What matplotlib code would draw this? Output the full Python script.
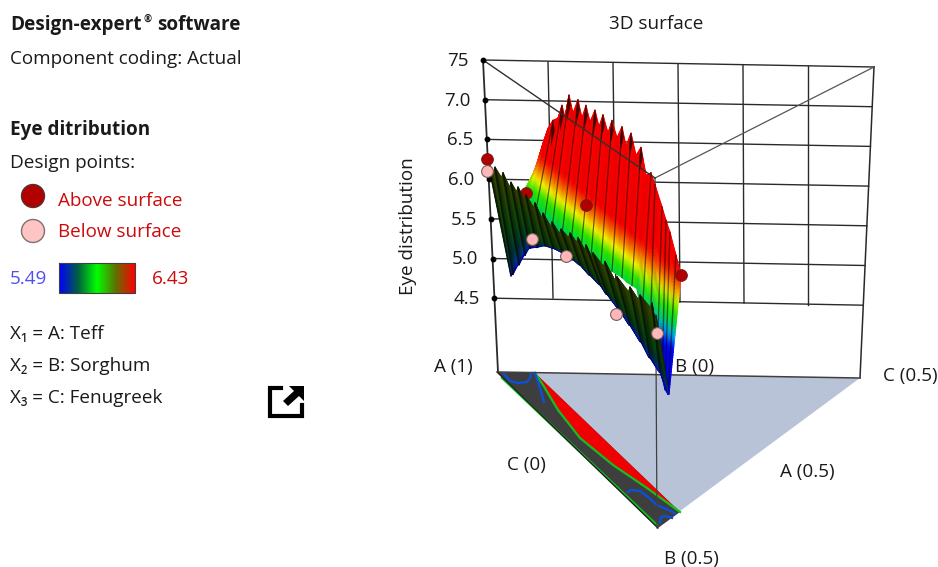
import numpy as np
import matplotlib
matplotlib.use("Agg")
import matplotlib.pyplot as plt
from matplotlib.colors import LinearSegmentedColormap
from matplotlib.patches import Polygon, Circle

plt.rcParams['font.family'] = ['Open Sans', 'Noto Sans', 'DejaVu Sans']

# ---- data -----------------------------------------------------------------
z_ticks = [7.5, 7.0, 6.5, 6.0, 5.5, 5.0, 4.5]
z_tick_labels = ["75", "7.0", "6.5", "6.0", "5.5", "5.0", "4.5"]
legend_min, legend_max = "5.49", "6.43"

# rear sheet: screen column, height of ridge, height of lower edge, screen column at the lower edge
back_x = [530,533,537,543,548,553,558,562,565,569,573,578,582,586,590,595,599,603,608,612,617,622,626,631,636,641,646,651,655,662,666,670,676,681]
back_top = [5.82,6.05,6.18,6.45,6.64,6.74,6.77,6.93,6.78,7.06,6.83,7.00,6.77,6.93,6.72,6.87,6.66,6.81,6.58,6.74,6.52,6.66,6.42,6.58,6.30,6.40,6.05,6.08,5.93,5.65,5.48,5.33,5.04,4.79]
back_bot = [5.80,5.76,5.72,5.66,5.60,5.55,5.50,5.46,5.42,5.38,5.34,5.30,5.24,5.20,5.16,5.12,5.06,5.02,4.98,4.94,4.90,4.84,4.80,4.76,4.70,4.66,4.62,4.28,4.02,3.70,3.50,3.35,3.29,3.29]
back_xb = [518,520,522,526,530,535,540,544,548,552,557,562,566,571,576,581,586,591,596,601,607,612,617,622,627,632,637,642,650,657,662,665,668,669]

# front sheet: same description, one entry per ridge spike
front_x = [488,495,503,511,518,526,535,543,552,561,570,578,586,593,605,617,630,640,652,656]
front_top = [6.22,6.15,6.08,5.96,5.90,5.80,5.70,5.57,5.46,5.37,5.32,5.26,5.17,5.07,4.96,4.77,4.64,4.54,4.44,4.29]
front_bot = [4.78,4.80,4.92,5.04,5.13,5.14,5.16,5.13,5.08,5.01,4.92,4.79,4.67,4.55,4.38,4.16,3.95,3.75,3.57,3.29]
front_xb = [511,513,519,525,530,537,545,553,562,571,580,590,600,607,618,630,641,650,660,669]

above_x, above_z = [487, 586, 681], [6.25, 5.67, 4.79]
hidden_above_x, hidden_above_z = [526], [5.82]
below_x, below_z = [487, 532, 566, 616, 657], [6.10, 5.25, 5.03, 4.30, 4.06]

# contours on the floor projection
red_edge_x = [535,543,558,580,613,647,680]
red_edge_y = [373,385,410,438,465,488,512]
green_out_x, green_out_y = [502,657], [378,525]
blue_a_x = [504,510,518,527,530,531,534]
blue_a_y = [374,381,383,382,378,373,373]
blue_b_x = [535,539,544]
blue_b_y = [373,385,402]
blue_c_x = [628,631,640,648,657,675]
blue_c_y = [492,490,491,497,505,513]
blue_d_x = [660,661,665,672]
blue_d_y = [523,517,516,518]

# ---- helpers --------------------------------------------------------------
def z2y(z):
    return 60 + (7.5 - np.asarray(z, float)) * 79.4

def axis_x(y):
    return 483 + (np.asarray(y, float) - 60) * 15 / 312

def right_x(y):
    return 874 - (np.asarray(y, float) - 67) * 14 / 311

surf_cmap = LinearSegmentedColormap.from_list("surf", ["#0000ff", "#00b0ff", "#00e040", "#30f000", "#ffff00", "#ff7000", "#ff0000", "#ff0000"])
front_cmap = LinearSegmentedColormap.from_list("front", ["#0000e8", "#003a90", "#003c3c", "#0c4a10", "#1c4c06", "#3a4a00"])
bar_cmap = LinearSegmentedColormap.from_list("bar", ["#0000ff", "#006040", "#00ff00", "#607000", "#ff0000"])

fig = plt.figure(figsize=(9.38, 5.67), dpi=100)
ax = fig.add_axes([0, 0, 1, 1])
ax.set_xlim(0, 938)
ax.set_ylim(567, 0)
ax.axis("off")

INK = "#2a2a2a"
TXT = "#1a1a1a"
FS = 13.6

def T(x, y, s, **kw):
    kw.setdefault("color", TXT)
    kw.setdefault("fontsize", FS)
    kw.setdefault("va", "center")
    ax.text(x, y + 1, s, **kw)

# ---- left panel -----------------------------------------------------------
T(10, 24, "Design-expert", fontweight="bold")
T(144, 18, "®", fontsize=7, fontweight="bold")
T(241, 24, "software", fontweight="bold", ha="right")
T(10, 58, "Component coding: Actual")
T(10, 129, "Eye ditribution", fontweight="bold")
T(10, 162, "Design points:")
ax.add_patch(Circle((33, 196), 11.5, fc="#b00000", ec="#5a3030", lw=1))
ax.add_patch(Circle((33, 231), 11.5, fc="#ffc4c4", ec="#807070", lw=1))
T(58, 200, "Above surface", color="#cc0a0a")
T(58, 231, "Below surface", color="#cc0a0a")
T(10, 278, legend_min, color="#5050f0")
T(152, 278, legend_max, color="#cc0a0a")
ax.imshow(np.linspace(0, 1, 200)[None, :], cmap=bar_cmap, extent=(59, 135, 293, 263), aspect="auto", zorder=2)
ax.plot([59, 135, 135, 59, 59], [263, 263, 293, 293, 263], color="#404040", lw=0.8, zorder=3)
ax.set_xlim(0, 938)
ax.set_ylim(567, 0)
T(10, 333, "X₁ = A: Teff")
T(10, 365, "X₂ = B: Sorghum")
T(10, 397, "X₃ = C: Fenugreek")
# export icon
ax.plot([281, 270, 270, 302, 302], [388, 388, 416, 416, 405], color="black", lw=3, solid_joinstyle="miter")
ax.add_patch(Polygon([(289, 386), (304, 386), (304, 401), (299, 396), (288, 406), (283, 401), (294, 391)], fc="black", ec="none"))

# ---- walls ----------------------------------------------------------------
for z in z_ticks:
    y = float(z2y(z))
    ax.plot([axis_x(y), right_x(y + 7)], [y, y + 7], color=INK, lw=1.0, zorder=1)
    ax.plot([axis_x(y)], [y], "o", color="black", ms=3.2, zorder=4)
for xt, xb, yt, yb in [(548, 553, 62, 298), (613, 616, 63, 300), (678, 680, 64, 302), (743, 744, 65, 303), (808, 808, 66, 305)]:
    ax.plot([xt, xb], [yt, yb], color=INK, lw=1.0, zorder=1)
ax.plot([483, 498], [60, 372], color=INK, lw=1.3, zorder=1)
ax.plot([874, 860], [67, 378], color=INK, lw=1.1, zorder=1)
ax.plot([655, 874], [178, 67], color="#555555", lw=0.9, zorder=1)

# floor
ax.add_patch(Polygon([(498, 372), (860, 378), (657, 528)], fc="#b9c3d7", ec="none", zorder=1))
ax.add_patch(Polygon([(497, 372), (535, 373), (680, 512), (658, 528)], fc="#3e3e3e", ec="none", zorder=1.2))
ax.add_patch(Polygon(list(zip(red_edge_x, red_edge_y)), fc="#f00000", ec="none", zorder=1.3))
ax.plot(red_edge_x, red_edge_y, color="#10c020", lw=1.6, zorder=1.4)
ax.plot(green_out_x, green_out_y, color="#10c020", lw=1.6, zorder=1.4)
for bx, by in [(blue_a_x, blue_a_y), (blue_b_x, blue_b_y), (blue_c_x, blue_c_y), (blue_d_x, blue_d_y)]:
    ax.plot(bx, by, color="#0a50e0", lw=1.6, zorder=1.4)
ax.plot([498, 860], [372, 378], color="#404040", lw=1.1, zorder=1.5)
ax.plot([497, 658], [372, 528], color="#202020", lw=1.0, zorder=1.5)
ax.plot([655, 657], [178, 528], color="#404040", lw=0.9, zorder=1.5)

# ---- surface --------------------------------------------------------------
rows = np.linspace(0, 1, 50)[:, None]

def sheet(xt, zt, xb, zb, colour_of, shade, zo):
    xt, xb = np.asarray(xt, float), np.asarray(xb, float)
    yt, yb = z2y(zt), z2y(zb)
    X = xt[None, :] + (xb - xt)[None, :] * rows
    Y = yt[None, :] + (yb - yt)[None, :] * rows
    rgb = colour_of(X, Y, rows)[..., :3] * np.asarray(shade)[None, :, None]
    ax.pcolormesh(X, Y, np.clip(rgb, 0, 1), shading="gouraud", zorder=zo, rasterized=True)

def back_colour(X, Y, t):
    y_green = 187 + 0.85 * (X - 537)
    return surf_cmap(np.clip(0.5 + (y_green - Y) / 95, 0, 1))

n = len(back_x)
sh = [0.92 if i % 2 == 0 else 1.0 for i in range(n)]
sheet(back_x, back_top, back_xb, back_bot, back_colour, sh, 2)

# dark creases of the rear sheet, from each spike tip down
ytop, ybot = z2y(back_top), z2y(back_bot)
for i in range(5, 27, 2):
    ax.plot([back_x[i], back_xb[i]], [ytop[i], ybot[i]], color="#180800", lw=0.9, alpha=0.6, zorder=2.1)
    ax.add_patch(Polygon([(back_x[i] - 1.8, ytop[i] + 10), (back_x[i], ytop[i]), (back_x[i] + 1.8, ytop[i] + 10), (back_x[i] - 2, ytop[i] + 26)], fc="#200800", ec="none", alpha=0.8, zorder=2.1))
for i in range(27, n - 1):
    ax.plot([back_x[i], back_xb[i]], [ytop[i], ybot[i]], color="#180800", lw=1.0, alpha=0.55, zorder=2.1)

# the see-through wall diagonal runs over the rear sheet
ax.plot([483, 655], [60, 178], color="#303030", lw=1.0, zorder=2.2)

ax.plot(hidden_above_x, z2y(hidden_above_z), "o", ms=8.5, mfc="#b00000", mec="#6a2020", mew=0.6, zorder=2.5)
ax.plot(above_x[1:], z2y(above_z[1:]), "o", ms=8.5, mfc="#b00000", mec="#6a2020", mew=0.6, zorder=2.5)

def front_colour(X, Y, t):
    # keeps dark green along the middle of the ridge, fading to blue near the lower edge
    p = np.interp(X, [490, 525, 545, 600, 635], [0.55, 0.55, 0.2, 0.2, 0.5])
    return front_cmap(np.clip((1 - t) ** p * 1.02, 0, 1))

# saw-tooth ridge: each spike is followed by a foot just before the next one
fx, fz, fxb, fzb, fs = [], [], [], [], []
m = len(front_x)
for i in range(m):
    fx.append(front_x[i]); fz.append(front_top[i]); fxb.append(front_xb[i]); fzb.append(front_bot[i]); fs.append(0.45)
    if i < m - 1:
        fx.append(front_x[i + 1] - 1.5); fz.append(front_top[i + 1] - 0.06)
        fxb.append(front_xb[i + 1] - 1.0); fzb.append(front_bot[i + 1]); fs.append(1.05)
sheet(fx, fz, fxb, fzb, front_colour, fs, 3)
fyt, fyb = z2y(front_top), z2y(front_bot)
for i in range(m - 1):
    ax.plot([front_x[i], front_xb[i]], [fyt[i], fyb[i]], color="#051005", lw=1.1, alpha=0.75, zorder=3.1)

ax.plot(above_x[:1], z2y(above_z[:1]), "o", ms=8.5, mfc="#b00000", mec="#6a2020", mew=0.6, zorder=4)
ax.plot(below_x, z2y(below_z), "o", ms=8.5, mfc="#ffb8b8", mec="#7a5a5a", mew=0.8, zorder=4.2)

# ---- chart text -----------------------------------------------------------
T(656, 23, "3D surface", ha="center")
T(408, 225, "Eye distribution", rotation=90, ha="center")
for z, lab in zip(z_ticks, z_tick_labels):
    y = float(z2y(z))
    T(float(axis_x(y)) - 14, y, lab, ha="right", fontsize=13.5)
T(434, 366, "A (1)")
T(675, 366, "B (0)")
T(883, 375, "C (0.5)")
T(507, 464, "C (0)")
T(780, 471, "A (0.5)")
T(664, 558, "B (0.5)")

fig.savefig("out.png", dpi=100)
